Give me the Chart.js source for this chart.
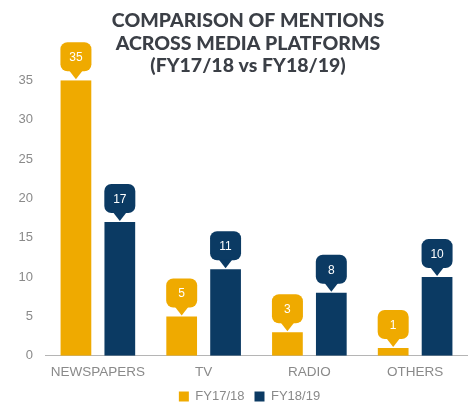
<!DOCTYPE html>
<html>
<head>
<meta charset="utf-8">
<script src="https://cdn.jsdelivr.net/npm/chart.js@4"></script>
<style>
  html, body { margin: 0; padding: 0; background: #fff; }
  #wrap { width: 468px; height: 403px; }
</style>
</head>
<body>
<div id="wrap"><canvas id="myChart"></canvas></div>
<script>
// data
const categories = ['NEWSPAPERS', 'TV', 'RADIO', 'OTHERS'];
const seriesNames = ['FY17/18', 'FY18/19'];
const fy1718 = [35, 5, 3, 1];
const fy1819 = [17, 11, 8, 10];
const yTicks = [0, 5, 10, 15, 20, 25, 30, 35];
const titleLines = ['COMPARISON OF MENTIONS', 'ACROSS MEDIA PLATFORMS', '(FY17/18 vs FY18/19)'];

const yellow = '#efaa00';
const navy = '#0b3a63';

// little speech-bubble labels above each bar
const calloutPlugin = {
  id: 'callouts',
  afterDatasetsDraw(chart) {
    const ctx = chart.ctx;
    chart.data.datasets.forEach((ds, i) => {
      const meta = chart.getDatasetMeta(i);
      meta.data.forEach((bar, j) => {
        const x = bar.x, y = bar.y;
        const w = 31, h = 29, r = 7;
        const bottom = y - 9, top = bottom - h;
        ctx.save();
        ctx.fillStyle = ds.backgroundColor;
        ctx.beginPath();
        ctx.roundRect(x - w / 2, top, w, h, r);
        ctx.fill();
        ctx.beginPath();
        ctx.moveTo(x - 7, bottom - 1);
        ctx.lineTo(x, y - 1);
        ctx.lineTo(x + 7, bottom - 1);
        ctx.closePath();
        ctx.fill();
        ctx.fillStyle = '#fff';
        ctx.font = '12px "Liberation Sans", Arial, sans-serif';
        ctx.textAlign = 'center';
        ctx.textBaseline = 'middle';
        ctx.fillText(String(ds.data[j]), x, top + h / 2 + 1);
        ctx.restore();
      });
    });
  }
};

// title and legend sit a bit off the default spots in the original
const nudgePlugin = {
  id: 'nudge',
  afterLayout(chart) {
    const t = chart.titleBlock;
    t.left += 6.5; t.right += 6.5;
    const l = chart.legend;
    l.left += 8; l.right += 8;
    l.top -= 8; l.bottom -= 8;
  }
};

const ctx = document.getElementById('myChart');

const myChart = new Chart(ctx, {
  type: 'bar',
  data: {
    labels: categories,
    datasets: [
      {
        label: seriesNames[0],
        data: fy1718,
        backgroundColor: yellow,
        categoryPercentage: 0.83,
        barPercentage: 0.7
      },
      {
        label: seriesNames[1],
        data: fy1819,
        backgroundColor: navy,
        categoryPercentage: 0.83,
        barPercentage: 0.7
      }
    ]
  },
  options: {
    responsive: true,
    maintainAspectRatio: false,
    animation: false,
    layout: { padding: { left: 15, right: 0, top: 0, bottom: -18 } },
    plugins: {
      title: {
        display: true,
        text: titleLines,
        color: '#3b3f46',
        font: { family: 'Lato', size: 19.5, weight: '900', lineHeight: 1.15 },
        padding: { top: 10, bottom: 3 }
      },
      legend: {
        position: 'bottom',
        labels: {
          boxWidth: 10,
          boxHeight: 10,
          color: '#8a8a8a',
          font: { family: '"Liberation Sans", Arial, sans-serif', size: 13 },
          padding: 10
        }
      },
      tooltip: { enabled: false }
    },
    scales: {
      x: {
        grid: { display: false, drawTicks: false },
        border: { display: true, color: '#b5b5b5', dash: [3, 3] },
        ticks: {
          color: '#8a8a8a',
          font: { family: '"Liberation Sans", Arial, sans-serif', size: 13.5 },
          padding: 8
        }
      },
      y: {
        min: 0,
        max: 35,
        afterFit: (axis) => { axis.width = 30; },
        afterBuildTicks: (axis) => { axis.ticks = yTicks.map(v => ({ value: v })); },
        grid: { display: false, drawTicks: false },
        border: { display: false },
        ticks: {
          color: '#8a8a8a',
          font: { family: '"Liberation Sans", Arial, sans-serif', size: 13 },
          padding: 12
        }
      }
    }
  },
  plugins: [calloutPlugin, nudgePlugin]
});
</script>
</body>
</html>
